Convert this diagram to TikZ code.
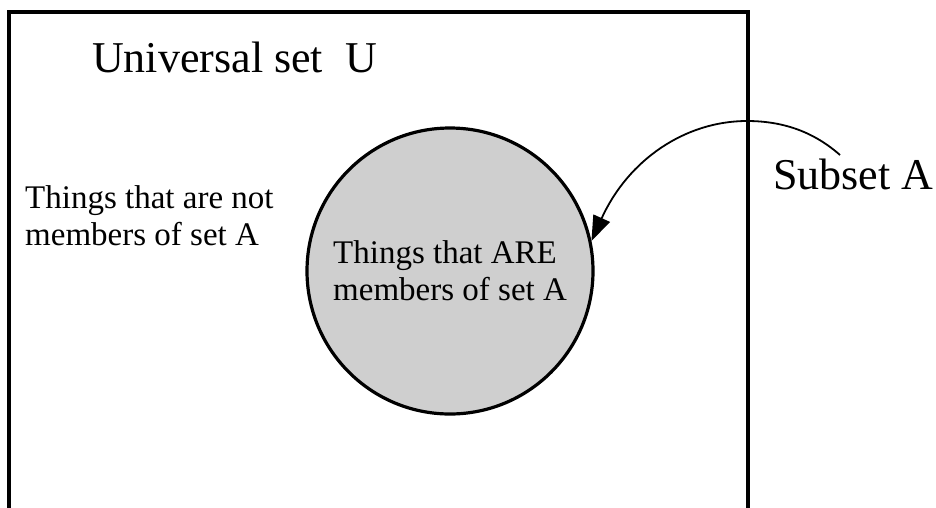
\documentclass[tikz,border=0pt]{standalone}
\usepackage{fontspec}
\setmainfont{Liberation Serif}
\usetikzlibrary{arrows.meta}
\begin{document}
\begin{tikzpicture}[x=1pt,y=-1pt,
  bigtext/.style={font=\fontsize{44}{50}\selectfont, inner sep=0pt},
  smalltext/.style={font=\fontsize{33}{37}\selectfont, inner sep=0pt, align=left},
  setcircle/.style={circle, draw=black, line width=3.2pt, fill=black!19, minimum size=286pt, inner sep=0pt},
  pointer/.style={line width=1.8pt, -{Triangle[length=25pt,width=18pt]}}
]
\useasboundingbox (0,0) rectangle (936,507);
\fill[white] (0,0) rectangle (936,507);
\begin{scope}
\clip (0,0) rectangle (936,507);
\draw[line width=4.5pt] (9,530) -- (9,12) -- (748,12) -- (748,530);
\end{scope}
\node[bigtext, anchor=base west] (U) at (92,72) {Universal set\ \ U};
\node[setcircle] (A) at (450,271) {};
\node[smalltext, anchor=base west] (in) at (333,300) {Things that ARE\\members of set A};
\node[smalltext, anchor=base west] (out) at (25,245) {Things that are not\\members of set A};
\node[bigtext, anchor=base west] (sub) at (773,189) {Subset A};
\coordinate (s) at (840,155);
\draw[pointer] (s) .. controls (815,133) and (785,121) .. (747,121) .. controls (685,121) and (628,160) .. (A.12);
\end{tikzpicture}
\end{document}
